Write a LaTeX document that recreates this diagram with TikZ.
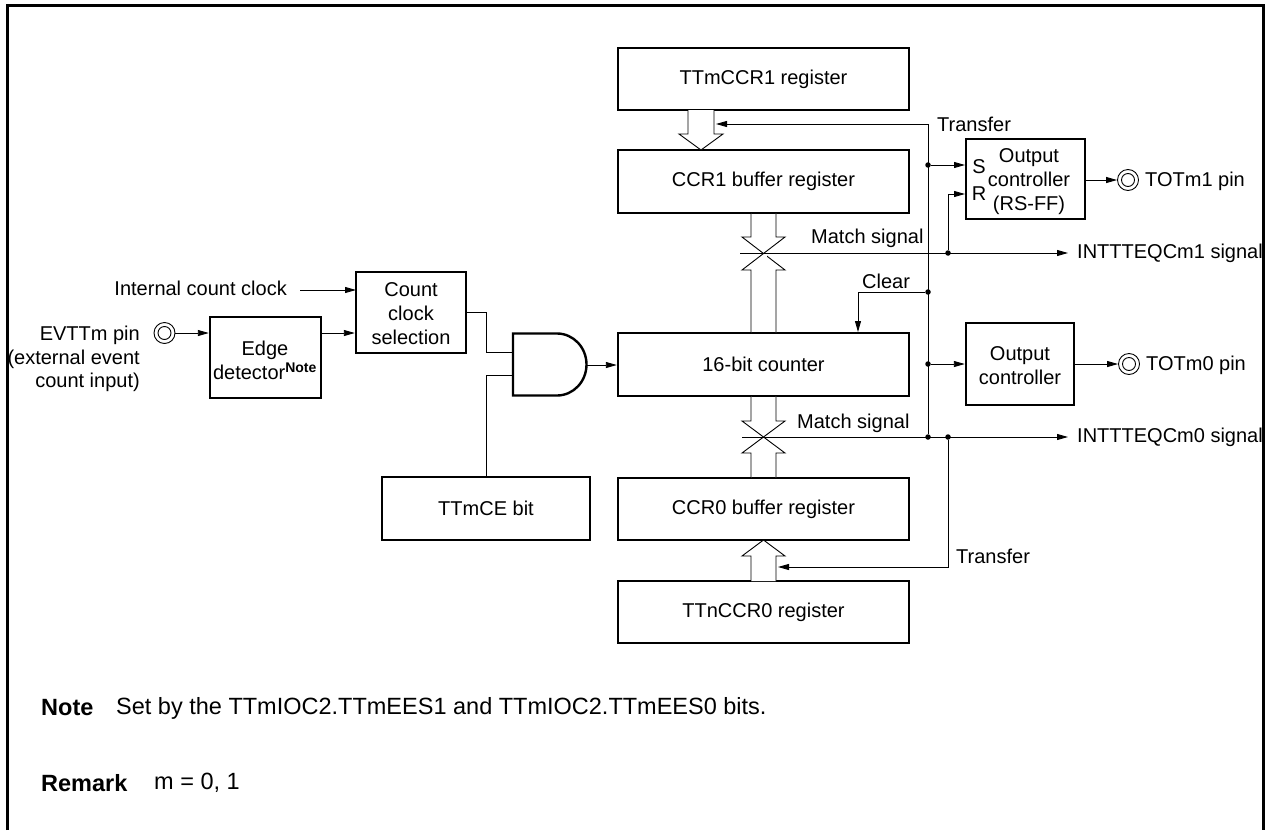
\documentclass[tikz,border=0pt]{standalone}
\usepackage{fontspec}
\setmainfont{Liberation Sans}
\usetikzlibrary{arrows.meta}
\tikzset{
  x=1pt,y=-1pt,
  txt/.style={inner sep=0pt,font=\fontsize{20}{24}\selectfont},
  nt/.style={inner sep=0pt,anchor=west,font=\fontsize{23.5}{28}\selectfont},
  blk/.style={draw,line width=2.4pt,fill=white,inner sep=0pt,font=\fontsize{20}{24}\selectfont,align=center},
  blt/.style={inner sep=0pt,font=\fontsize{20}{24}\selectfont,align=center},
  sig/.style={line width=0.9pt,-{Triangle[length=11pt,width=6pt]}},
  wire/.style={line width=0.9pt},
  hollow/.style={line width=0.9pt,fill=white},
  dotn/.style={circle,fill=black,inner sep=0pt,minimum size=5.5pt},
  pinn/.style={circle,draw,line width=0.9pt,minimum size=21pt,inner sep=0pt,path picture={\draw[line width=0.9pt] (path picture bounding box.center) circle (6.5pt);}}
}
\begin{document}
\begin{tikzpicture}
\useasboundingbox (0,0) rectangle (1271,830);
\draw[line width=3pt] (7.5,830) -- (7.5,5.5) -- (1263.5,5.5) -- (1263.5,830);

\node[blk,minimum width=291pt,minimum height=62pt] (ttm1) at (763.5,79) {TTmCCR1 register};
\node[blk,minimum width=291pt,minimum height=63pt] (ccr1) at (763.5,181.5) {CCR1 buffer register};
\node[blk,minimum width=291pt,minimum height=63pt] (cnt) at (763.5,364.5) {16-bit counter};
\node[blk,minimum width=291pt,minimum height=62pt] (ccr0) at (763.5,509) {CCR0 buffer register};
\node[blk,minimum width=291pt,minimum height=62pt] (ttn0) at (763.5,612) {TTnCCR0 register};
\node[blk,minimum width=208pt,minimum height=63pt] (ce) at (486,508.5) {TTmCE bit};
\node[blk,minimum width=111pt,minimum height=81pt] (edge) at (265.5,357.5) {};
\node[blt] (edget) at (265,360.5) {Edge\\detector\textsuperscript{\textbf{Note}}};
\node[blk,minimum width=110pt,minimum height=81pt] (sel) at (411,312.5) {};
\node[blt] (selt) at (411,314) {Count\\clock\\selection};
\node[blk,minimum width=119pt,minimum height=80pt] (oc1) at (1025.5,179) {};
\node[blt] (oc1t) at (1029,181.5) {Output\\controller\\(RS-FF)};
\node[blk,minimum width=108pt,minimum height=82pt] (oc0) at (1020,364) {};
\node[blt] (oc0t) at (1020,366) {Output\\controller};

% AND gate
\draw[line width=2.4pt,fill=white] (513,333.5) -- (557,333.5) arc[start angle=90,end angle=-90,x radius=29.5pt,y radius=31pt] -- (513,395.5) -- cycle;
\coordinate (andin1) at (513,352);
\coordinate (andin2) at (513,375);
\coordinate (andout) at (586.5,365);

% pins
\node[pinn] (evt) at (164.5,333) {};
\node[pinn] (tot1) at (1128,180) {};
\node[pinn] (tot0) at (1129,364) {};

% hollow arrows
\draw[hollow] (688,110) -- (688,134) -- (679,134) -- (701,150) -- (723,134) -- (714,134) -- (714,110);
\draw[hollow] (751,213) -- (751,237) -- (742,237) -- (785,270) -- (776,270) -- (776,333);
\draw[hollow] (776,213) -- (776,237) -- (785,237) -- (742,270) -- (751,270) -- (751,333);
\draw[hollow] (751,396) -- (751,421) -- (742,421) -- (785,453) -- (776,453) -- (776,478);
\draw[hollow] (776,396) -- (776,421) -- (785,421) -- (742,453) -- (751,453) -- (751,478);
\draw[hollow] (751,581) -- (751,556) -- (742,556) -- (763.5,540) -- (785,556) -- (776,556) -- (776,581);

% dots
\node[dotn] (d1) at (928,165) {};
\node[dotn] (d2) at (928,292) {};
\node[dotn] (d3) at (928,364) {};
\node[dotn] (d4) at (928,437) {};
\node[dotn] (d5) at (948,253) {};
\node[dotn] (d6) at (948,437) {};

\coordinate (m1s) at (740,253);
\coordinate (m0s) at (742,437);
\coordinate (m1e) at (1068,253);
\coordinate (m0e) at (1068,437);
\coordinate (tr1) at (928,124);
\coordinate (tr1e) at (716,124);
\coordinate (tr0e) at (778,567);
\coordinate (clk) at (300,290);
\coordinate (clke) at (356,290);

\draw[wire] (tr1) -- (d4);
\draw[sig] (tr1) -- (tr1e);
\draw[sig] (d1) -- (965,165);
\draw[sig] (d5) |- (965,194);
\draw[sig] (d2) -| (858,332);
\draw[sig] (d3) -- (oc0.west);
\draw[sig] (m1s) -- (m1e);
\draw[sig] (m0s) -- (m0e);
\draw[sig] (d6) |- (tr0e);
\draw[sig] (clk) -- (clke);
\draw[sig] (evt) -- (edge.west |- evt);
\draw[sig] (edge.east |- 0,333) -- (sel.west |- 0,333);
\draw[wire] (sel.east |- 0,312) -- (486,312) |- (andin1);
\draw[wire] (andin2) -| (ce.north);
\draw[sig] (andout) -- (cnt.west |- andout);
\draw[sig] (oc1.east |- tot1) -- (tot1);
\draw[sig] (oc0) -- (tot0);

% labels
\node[txt,anchor=east] (l1) at (287,288) {Internal count clock};
\node[txt,anchor=east] (l2) at (140,335) {EVTTm pin};
\node[txt,anchor=east] (l3) at (140,359) {(external event};
\node[txt,anchor=east] (l4) at (140,382) {count input)};
\node[txt,anchor=west] (l5) at (937,124) {Transfer};
\node[txt,anchor=west] (l6) at (956,556) {Transfer};
\node[txt,anchor=west] (l7) at (811,238) {Match signal};
\node[txt,anchor=west] (l8) at (797,423) {Match signal};
\node[txt,anchor=west] (l9) at (862,281) {Clear};
\node[txt,anchor=west] (l10) at (1077,253) {INTTTEQCm1 signal};
\node[txt,anchor=west] (l11) at (1077,437) {INTTTEQCm0 signal};
\node[txt,anchor=west] (l12) at (1145,181) {TOTm1 pin};
\node[txt,anchor=west] (l13) at (1146,365) {TOTm0 pin};
\node[txt] (s) at (979,167) {S};
\node[txt] (r) at (979,194) {R};
\node[nt] (n1) at (41,708) {\textbf{Note}};
\node[nt] (n2) at (116,708) {Set by the TTmIOC2.TTmEES1 and TTmIOC2.TTmEES0 bits.};
\node[nt] (n3) at (41,783) {\textbf{Remark}};
\node[nt] (n4) at (154,783) {m = 0, 1};
\end{tikzpicture}
\end{document}
